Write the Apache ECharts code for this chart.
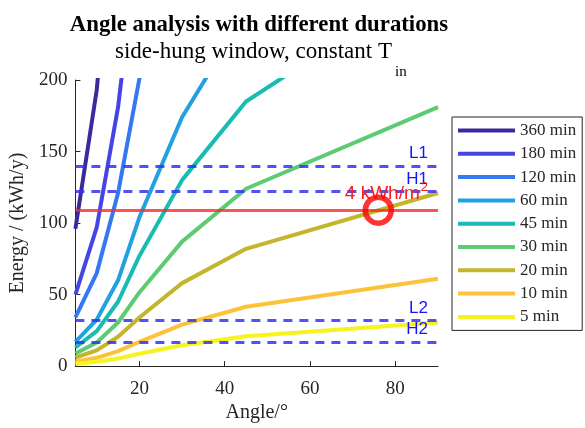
<!DOCTYPE html>
<html>
<head>
<meta charset="utf-8">
<script src="https://cdn.jsdelivr.net/npm/echarts@6/dist/echarts.min.js"></script>
<style>
  html, body { margin: 0; padding: 0; background: #ffffff; }
  #chart { width: 585px; height: 428px; }
</style>
</head>
<body>
<div id="chart"></div>
<script>
// Opening angles (degrees) at which the energy was evaluated
const angles = [5, 10, 15, 20, 30, 45, 90];

// Ventilation durations, shown in the legend
const durations = ['360 min', '180 min', '120 min', '60 min', '45 min', '30 min', '20 min', '10 min', '5 min'];

// Energy (kWh/y) for each duration at the angles above
const e360 = [96, 193, 360, 612, 1040, 1483, 2178];
const e180 = [50, 97, 181, 306, 520, 742, 1089];
const e120 = [34, 65, 121, 201, 347, 494, 726];
const e60  = [17, 32.5, 60, 104, 174, 247, 363];
const e45  = [13, 24.5, 45, 77, 130, 185, 272];
const e30  = [8.8, 16.5, 30.5, 51.5, 87, 124, 181];
const e20  = [6, 11, 20.5, 34, 58, 82, 121];
const e10  = [3.2, 5.8, 10.5, 17, 29, 41.5, 61];
const e5   = [1.6, 3, 5.3, 8.6, 14.6, 20.8, 30.5];

// Limit lines (kWh/y)
const limitNames  = ['L1', 'H1', 'L2', 'H2'];
const limitValues = [140, 122, 32, 17];

// 4 kWh/m² target and the angle where the 20 min curve reaches it
const targetEnergy = 109;
const targetAngle = 76;

// Axis ticks
const xTickValues = [20, 40, 60, 80];
const yTickValues = [0, 50, 100, 150, 200];

const seriesValues = [e360, e180, e120, e60, e45, e30, e20, e10, e5];
const seriesColors = ['#3a2a9e', '#4545e6', '#3478f2', '#22a0e2', '#18bcb2',
                      '#5ccb72', '#c3b62c', '#fcc33a', '#f6f41c'];

const serif = 'Liberation Serif, Times New Roman, serif';
const sans = 'Liberation Sans, Arial, sans-serif';
const axisColor = '#262626';

const chart = echarts.init(document.getElementById('chart'), null, { renderer: 'canvas' });

const curveSeries = durations.map((name, k) => ({
  name: name,
  type: 'line',
  data: angles.map((a, i) => [a, seriesValues[k][i]]),
  showSymbol: false,
  symbol: 'none',
  clip: true,
  color: seriesColors[k],
  lineStyle: { width: 4, color: seriesColors[k] },
  z: 2
}));

// Dashed limit lines with their names at the right end
const limitLines = limitNames.map((n, i) => [
  {
    coord: [angles[0], limitValues[i]],
    lineStyle: { color: 'rgba(50,50,245,0.85)', width: 3, type: [9, 7] },
    label: {
      show: true, position: 'insideEndTop', formatter: n, distance: [10, 4],
      color: '#1414ff', fontFamily: sans, fontSize: 17
    }
  },
  { coord: [angles[angles.length - 1], limitValues[i]] }
]);

const targetLine = [
  {
    coord: [angles[0], targetEnergy],
    lineStyle: { color: 'rgba(255,40,40,0.8)', width: 3, type: 'solid' },
    label: {
      show: true, position: 'insideEndTop', distance: [10, 4],
      formatter: '4 kWh/m{sup|2}',
      color: '#ff1a1a', fontFamily: sans, fontSize: 19,
      rich: { sup: { fontSize: 13, color: '#ff1a1a', fontFamily: sans, padding: [0, 0, 12, 1] } }
    }
  },
  { coord: [angles[angles.length - 1], targetEnergy] }
];

const option = {
  backgroundColor: '#ffffff',
  animation: false,
  title: [
    {
      text: 'Angle analysis with different durations',
      left: 254, top: 9, textAlign: 'center',
      textStyle: { fontFamily: serif, fontWeight: 'bold', fontSize: 22.8, color: '#000000' }
    },
    {
      text: 'side-hung window, constant T',
      left: 110, top: 35,
      textStyle: { fontFamily: serif, fontWeight: 'normal', fontSize: 23, color: '#000000' }
    },
    {
      text: 'in',
      left: 390, top: 60,
      textStyle: { fontFamily: serif, fontWeight: 'normal', fontSize: 15, color: '#000000' }
    }
  ],
  grid: { left: 74, right: 147, top: 80, bottom: 60, containLabel: false },
  legend: {
    data: durations,
    orient: 'vertical',
    left: 452, top: 117,
    padding: [5, 6, 5, 6],
    icon: 'rect',
    itemWidth: 57, itemHeight: 4, itemGap: 6.3,
    borderColor: '#262626', borderWidth: 1, borderRadius: 0,
    backgroundColor: '#ffffff',
    textStyle: { fontFamily: serif, fontSize: 17, color: '#262626' }
  },
  xAxis: {
    type: 'value', min: 5, max: 90,
    name: 'Angle/°', nameLocation: 'middle', nameGap: 33,
    nameTextStyle: { fontFamily: serif, fontSize: 20, color: axisColor },
    axisLine: { show: true, lineStyle: { color: axisColor, width: 1 } },
    axisTick: { show: true, inside: true, length: 5, customValues: xTickValues, lineStyle: { color: axisColor } },
    axisLabel: { customValues: xTickValues, fontFamily: serif, fontSize: 19, color: axisColor, margin: 13 },
    splitLine: { show: false }
  },
  yAxis: {
    type: 'value', min: 0, max: 200, interval: 50,
    name: 'Energy / (kWh/y)', nameLocation: 'middle', nameGap: 46,
    nameTextStyle: { fontFamily: serif, fontSize: 20, color: axisColor },
    axisLine: { show: true, lineStyle: { color: axisColor, width: 1 } },
    axisTick: { show: true, inside: true, length: 5, customValues: yTickValues, lineStyle: { color: axisColor } },
    axisLabel: { customValues: yTickValues, fontFamily: serif, fontSize: 19, color: axisColor, margin: 8 },
    splitLine: { show: false }
  },
  series: curveSeries.concat([
    {
      name: 'limits',
      type: 'line',
      data: [],
      z: 5,
      markLine: {
        silent: true, symbol: ['none', 'none'], animation: false,
        data: limitLines.concat([targetLine])
      }
    },
    {
      name: 'target',
      type: 'scatter',
      data: [[targetAngle, targetEnergy]],
      symbol: 'circle', symbolSize: 26,
      itemStyle: { color: 'rgba(0,0,0,0)', borderColor: '#ff0000', borderWidth: 5.5 },
      z: 10
    }
  ])
};

chart.setOption(option);
</script>
</body>
</html>
